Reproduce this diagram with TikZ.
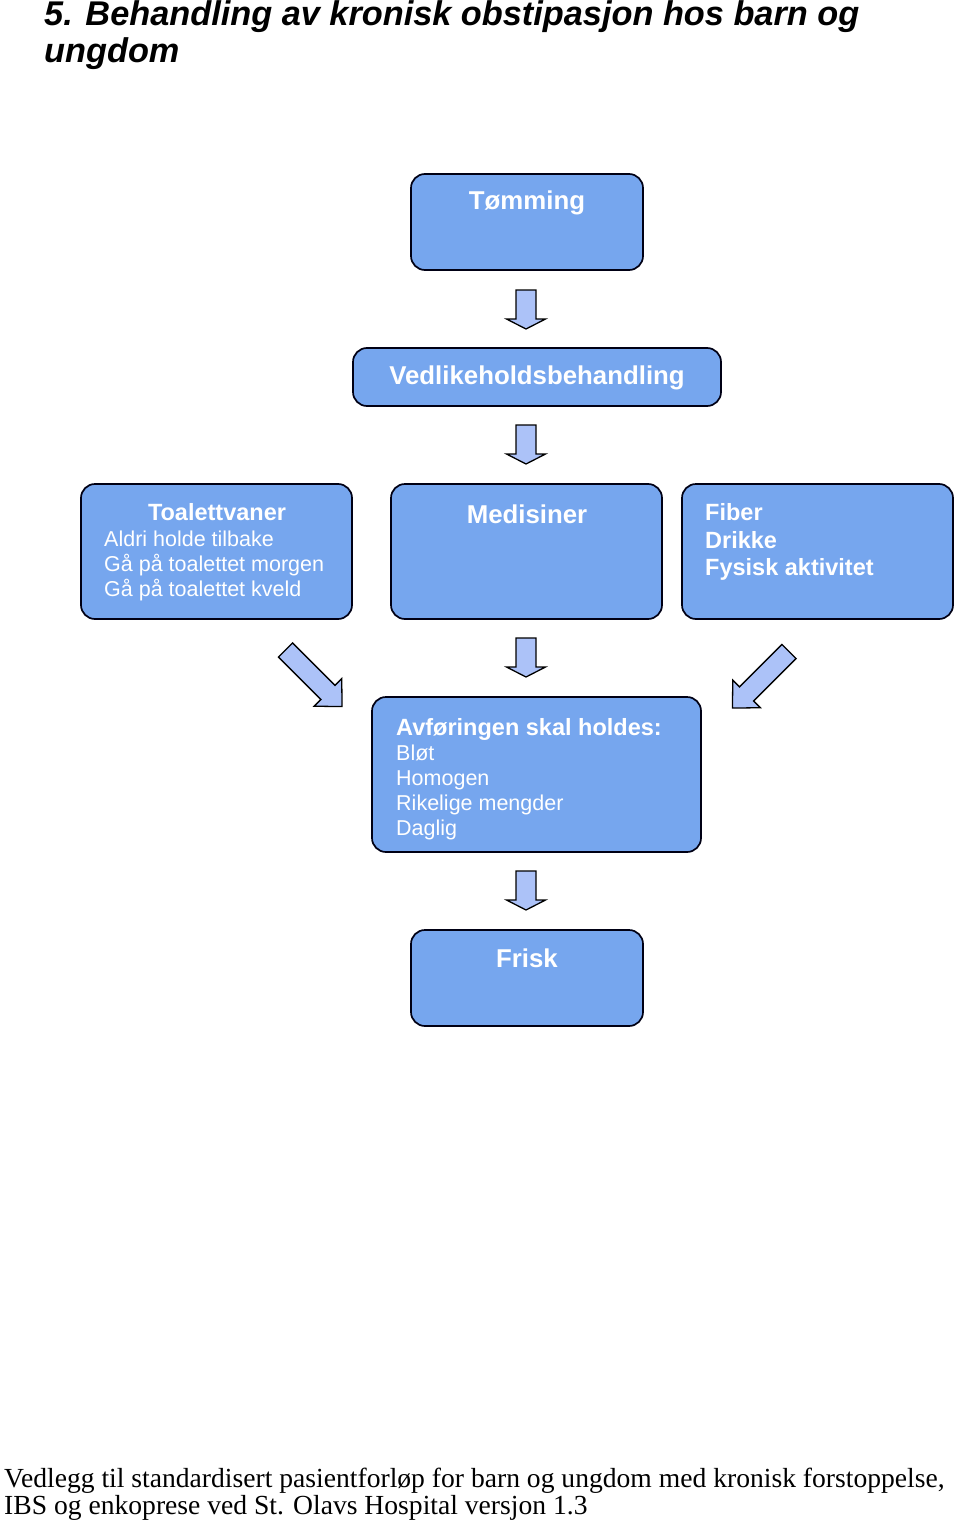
\documentclass[tikz,border=0pt]{standalone}
\usepackage{fontspec}
\setmainfont{Liberation Sans}
\newfontfamily\footfont{Liberation Serif}
\definecolor{boxblue}{RGB}{118,166,238}
\definecolor{arrowblue}{RGB}{172,194,248}

% block arrow: position of tail centre, angle, shaft length, head length
\newcommand{\blockarrow}[4]{%
  \begin{scope}[shift={#1},rotate=#2]
    \draw[arrowstyle] (0,-10) -- (#3,-10) -- (#3,-19.5) -- (#3+#4,0)
      -- (#3,19.5) -- (#3,10) -- (0,10) -- cycle;
  \end{scope}}

\begin{document}
\begin{tikzpicture}[x=1pt,y=-1pt]

    \tikzset{boxstyle/.style={draw=black!92!blue,line width=1.7pt,fill=boxblue,
               rounded corners=14pt,inner sep=0pt},
             arrowstyle/.style={draw=black,line width=1.3pt,fill=arrowblue,line join=miter},
             headtext/.style={text=white,font=\fontsize{25.8}{28}\selectfont\bfseries,inner sep=0pt},
             smalltext/.style={text=white,font=\fontsize{21.5}{25}\selectfont,inner sep=0pt,align=left},
             listhead/.style={text=white,font=\fontsize{23.5}{27.5}\selectfont\bfseries,inner sep=0pt,align=left}}

    \useasboundingbox (0,0) rectangle (960,1522);

    % title
    \node[anchor=base west,inner sep=0pt,font=\fontsize{34.3}{37}\selectfont\bfseries\itshape]
        (title1) at (44,26) {5. Behandling av kronisk obstipasjon hos barn og};
    \node[anchor=base west,inner sep=0pt,font=\fontsize{34.3}{37}\selectfont\bfseries\itshape]
        (title2) at (44,63) {ungdom};

    % boxes
    \draw[boxstyle] (411,174) rectangle (643,270);
    \node[headtext,anchor=base] (tom) at (527,210) {Tømming};

    \draw[boxstyle] (353,348) rectangle (721,406);
    \node[headtext,anchor=base] (ved) at (537,384) {Vedlikeholdsbehandling};

    \draw[boxstyle] (81,484) rectangle (352,619);
    \node[listhead,anchor=base] (toal) at (217,520) {Toalettvaner};
    \node[smalltext,anchor=base west] (toal1) at (104,546) {Aldri holde tilbake};
    \node[smalltext,anchor=base west] (toal2) at (104,571) {Gå på toalettet morgen};
    \node[smalltext,anchor=base west] (toal3) at (104,596) {Gå på toalettet kveld};

    \draw[boxstyle] (391,484) rectangle (662,619);
    \node[headtext,anchor=base] (med) at (527,523) {Medisiner};

    \draw[boxstyle] (682,484) rectangle (953,619);
    \node[listhead,anchor=base west] (fib1) at (705,520) {Fiber};
    \node[listhead,anchor=base west] (fib2) at (705,548) {Drikke};
    \node[listhead,anchor=base west] (fib3) at (705,575) {Fysisk aktivitet};

    \draw[boxstyle] (372,697) rectangle (701,852);
    \node[listhead,anchor=base west] (avf) at (396,735) {Avføringen skal holdes:};
    \node[smalltext,anchor=base west] (avf1) at (396,760) {Bløt};
    \node[smalltext,anchor=base west] (avf2) at (396,785) {Homogen};
    \node[smalltext,anchor=base west] (avf3) at (396,810) {Rikelige mengder};
    \node[smalltext,anchor=base west] (avf4) at (396,835) {Daglig};

    \draw[boxstyle] (411,930) rectangle (643,1026);
    \node[headtext,anchor=base] (fri) at (527,967) {Frisk};

    % arrows
    \blockarrow{(526,290)}{-90}{29}{10}
    \blockarrow{(526,425)}{-90}{29}{10}
    \blockarrow{(526,638)}{-90}{29}{10}
    \blockarrow{(526,871)}{-90}{29}{10}
    \blockarrow{(285.5,650)}{-45}{60}{20}
    \blockarrow{(789,651.5)}{-135}{60}{20}

    % footer
    \node[anchor=base west,inner sep=0pt,font=\footfont\fontsize{27.6}{30}\selectfont]
        (foot1) at (4,1487) {Vedlegg til standardisert pasientforløp for barn og ungdom med kronisk forstoppelse,};
    \node[anchor=base west,inner sep=0pt,font=\footfont\fontsize{27.6}{30}\selectfont]
        (foot2) at (4,1514) {IBS og enkoprese ved St. Olavs Hospital versjon 1.3};

\end{tikzpicture}
\end{document}
